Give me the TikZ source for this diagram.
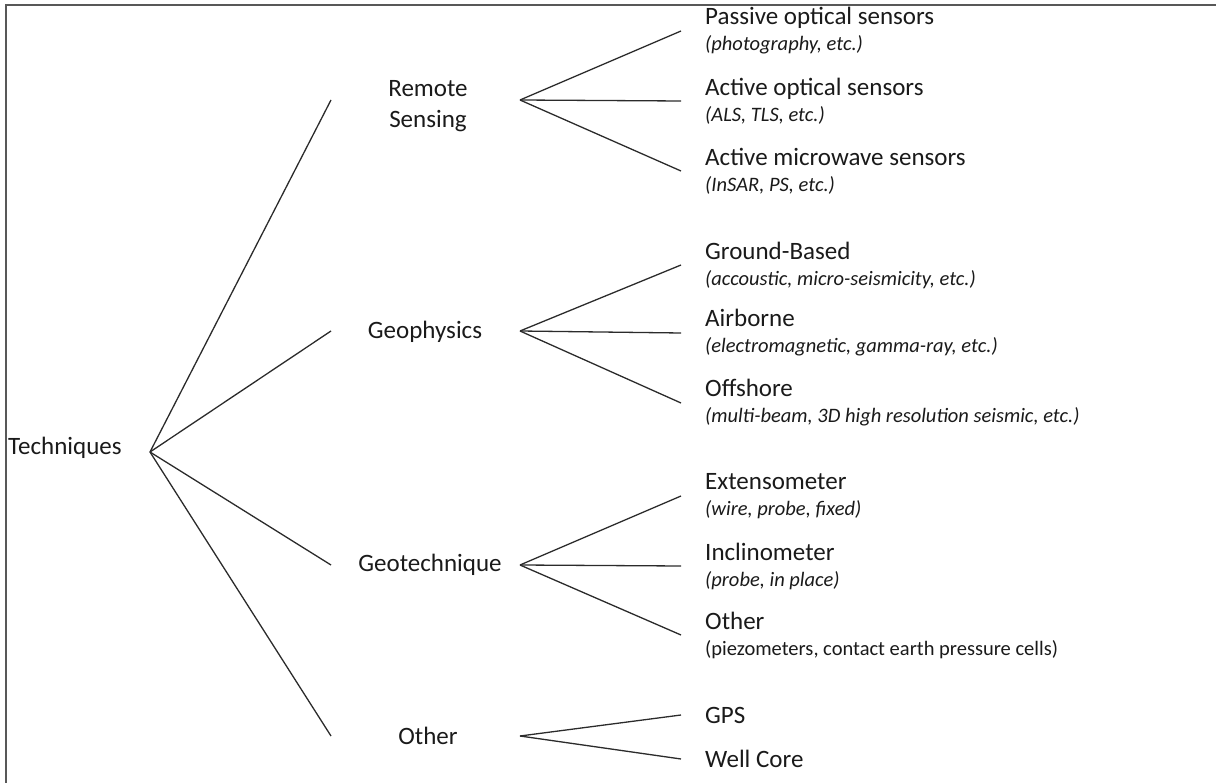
\documentclass[tikz,border=0pt]{standalone}
\usepackage{fontspec}
\setmainfont{Carlito}
\definecolor{inkline}{HTML}{2B2B2B}
\definecolor{inktext}{HTML}{1A1A1A}
\definecolor{framegray}{HTML}{585858}
\newcommand{\leafnote}[1]{{\fontsize{20.5}{24}\selectfont\itshape #1}}
\newcommand{\leafplain}[1]{{\fontsize{20.5}{24}\selectfont #1}}

\begin{document}
\begin{tikzpicture}[
      x=1pt, y=-1pt,
      label/.style={inner sep=0pt, text=inktext, font=\fontsize{25}{31}\selectfont},
      branch/.style={label, align=center},
      leaf/.style={label, anchor=west, align=left, font=\fontsize{25}{26}\selectfont},
      edge/.style={line width=1.3pt, draw=inkline}
    ]
    \useasboundingbox (0,0) rectangle (1216,783);
    \draw[framegray, line width=2pt] (6,783) -- (6,5) -- (1216,5);
    % root
    \node[label, anchor=west] (tech) at (8,448) {Techniques};
    \coordinate (techhub) at (150,452);
    % first level
    \node[branch] (rs) at (428,106) {Remote\\Sensing};
    \node[branch] (gp) at (425,332) {Geophysics};
    \node[branch] (gt) at (430,565) {Geotechnique};
    \node[branch] (ot) at (428,736) {Other};
    \foreach \n/\yy in {rs/100, gp/331, gt/565, ot/736} {
      \coordinate (\n in) at (331,\yy);
      \coordinate (\n out) at (520,\yy);
      \draw[edge] (techhub) -- (\n in);
    }
    % second level
    \foreach \n/\hub/\yy/\txt in {
        pos/rs/31/{Passive optical sensors\\\leafnote{(photography, etc.)}},
        aos/rs/101/{Active optical sensors\\\leafnote{(ALS, TLS, etc.)}},
        ams/rs/171/{Active microwave sensors\\\leafnote{(InSAR, PS, etc.)}},
        gb/gp/265/{Ground-Based\\\leafnote{(accoustic, micro-seismicity, etc.)}},
        air/gp/333/{Airborne\\\leafnote{(electromagnetic, gamma-ray, etc.)}},
        off/gp/403/{Offshore\\\leafnote{(multi-beam, 3D high resolution seismic, etc.)}},
        ext/gt/496/{Extensometer\\\leafnote{(wire, probe, fixed)}},
        inc/gt/566/{Inclinometer\\\leafnote{(probe, in place)}},
        oth/gt/635/{Other\\\leafplain{(piezometers, contact earth pressure cells)}},
        gps/ot/715/{GPS},
        wc/ot/759/{Well Core}} {
      \node[leaf] (\n) at (705,\yy) {\txt};
      \draw[edge] (\hub out) -- ([xshift=-24pt]\n.west);
    }
\end{tikzpicture}
\end{document}
